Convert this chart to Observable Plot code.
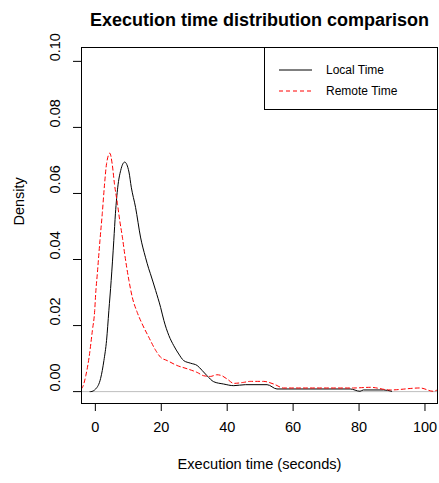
<!DOCTYPE html>
<html>
<head>
<meta charset="utf-8">
<script src="https://cdn.jsdelivr.net/npm/d3@7"></script>
<script src="https://cdn.jsdelivr.net/npm/@observablehq/plot@0.6"></script>
<style>
  html, body { margin: 0; padding: 0; background: #fff; }
  #wrap { position: relative; width: 439px; height: 483px; font-family: "Liberation Sans", Arial, sans-serif; }
  #legend { position: absolute; left: 264px; top: 47px; width: 172px; height: 61px; border: 1px solid #000; background: #fff; box-sizing: content-box; }
  #legend .row { position: absolute; left: 0; height: 16px; display: flex; align-items: center; font-size: 12px; color: #000; }
  #legend svg { margin-left: 14px; margin-right: 14px; }
</style>
</head>
<body>
<div id="wrap"></div>
<script>
const title = "Execution time distribution comparison";
const xLabel = "Execution time (seconds)";
const yLabel = "Density";
const seriesNames = ["Local Time", "Remote Time"];
const seriesColors = ["black", "red"];
const xTicks = [0, 20, 40, 60, 80, 100];
const yTicks = [0.00, 0.02, 0.04, 0.06, 0.08, 0.10];

const localX = [-1.6, -1.4, 0.1, 1.6, 2.6, 3.4, 4.1, 4.8, 5.6, 6.1, 6.8, 7.7, 8.9, 10.2, 10.9, 12.2, 13.7, 15.2, 16.2, 16.7, 18.3, 19.8, 20.8, 22.3, 23.8, 25.3, 26.8, 28.9, 30.9, 32.4, 33.9, 35.9, 38.9, 42.0, 45.5, 52.1, 55.1, 77.3, 80.3, 81.3, 87.4, 89.9];
const localY = [0, 0, 0.0008, 0.004, 0.0094, 0.0155, 0.0245, 0.0336, 0.0458, 0.054, 0.0619, 0.067, 0.0695, 0.0665, 0.0619, 0.0558, 0.0468, 0.0407, 0.0372, 0.0357, 0.0306, 0.0255, 0.0215, 0.017, 0.0139, 0.0114, 0.0094, 0.0086, 0.0079, 0.0064, 0.0048, 0.003, 0.0023, 0.0018, 0.0021, 0.0021, 0.0008, 0.0008, 0.0001, 0.0005, 0.0005, 0.0001];

const remoteX = [-4.3, -3.9, -2.9, -1.9, -0.9, -0.2, 0.1, 0.6, 1.4, 2.1, 2.8, 3.4, 4.4, 5.1, 5.8, 6.7, 7.4, 8.2, 8.9, 9.5, 10.2, 11.2, 12.7, 14.2, 16.2, 18.3, 19.8, 21.8, 24.8, 27.9, 30.9, 32.9, 34.9, 36.9, 38.4, 40.0, 42.0, 45.0, 47.0, 51.0, 54.1, 57.1, 78.3, 83.4, 89.4, 98.5, 102.5, 103.9];
const remoteY = [0.0008, 0.0013, 0.0048, 0.0104, 0.0185, 0.0245, 0.0296, 0.0357, 0.0458, 0.0539, 0.0629, 0.069, 0.0722, 0.069, 0.0629, 0.0569, 0.0518, 0.0468, 0.0417, 0.0377, 0.0336, 0.0286, 0.0240, 0.0205, 0.0165, 0.0125, 0.0104, 0.0094, 0.0079, 0.0069, 0.0058, 0.0048, 0.0046, 0.0051, 0.0048, 0.0038, 0.0025, 0.0028, 0.0031, 0.0031, 0.0023, 0.0011, 0.0011, 0.0013, 0.0005, 0.0011, 0.0001, 0.0006];

const local = localX.map((x, i) => ({x, y: localY[i]}));
const remote = remoteX.map((x, i) => ({x, y: remoteY[i]}));
const font = "Liberation Sans, Arial, sans-serif";

const plot = Plot.plot({
  width: 439,
  height: 483,
  marginTop: 47,
  marginBottom: 80,
  marginLeft: 81,
  marginRight: 2,
  style: {fontFamily: font, background: "#fff", color: "#000"},
  x: {domain: [-4.2, 103.8]},
  y: {domain: [-0.0036, 0.1042]},
  marks: [
    Plot.ruleY([0], {stroke: "#bebebe", strokeWidth: 1}),
    Plot.line(local, {x: "x", y: "y", stroke: seriesColors[0], strokeWidth: 1, curve: "monotone-x", clip: true}),
    Plot.line(remote, {x: "x", y: "y", stroke: seriesColors[1], strokeWidth: 1, strokeDasharray: "4,3", curve: "monotone-x", clip: true}),
    Plot.frame({stroke: "#000", strokeWidth: 1}),
    Plot.axisX({ticks: xTicks, tickSize: 8, tickPadding: 10, fontSize: 14.5, label: null, stroke: "#000"}),
    Plot.axisY({ticks: yTicks, tickSize: 8, tickFormat: () => "", label: null}),
    Plot.text(yTicks, {y: d => d, text: d => d3.format(".2f")(d), frameAnchor: "left", dx: -26, rotate: -90, fontSize: 14.5, fill: "#000"}),
    Plot.text([yLabel], {text: d => d, frameAnchor: "left", dx: -62, rotate: -90, fontSize: 14.5, fill: "#000"}),
    Plot.text([xLabel], {text: d => d, frameAnchor: "bottom", dy: 65, fontSize: 14.6, fill: "#000"}),
    Plot.text([title], {text: d => d, frameAnchor: "top", dy: -34, fontSize: 18, fontWeight: "bold", fill: "#000"})
  ]
});

const wrap = document.getElementById("wrap");
wrap.appendChild(plot);

const legend = document.createElement("div");
legend.id = "legend";
seriesNames.forEach((name, i) => {
  const row = document.createElement("div");
  row.className = "row";
  row.style.top = (i === 0 ? 14 : 35) + "px";
  const dash = i === 1 ? ' stroke-dasharray="4,3"' : '';
  row.innerHTML = `<svg width="33" height="4"><line x1="0" y1="2" x2="33" y2="2" stroke="${seriesColors[i]}" stroke-width="1"${dash}/></svg><span>${name}</span>`;
  legend.appendChild(row);
});
wrap.appendChild(legend);
</script>
</body>
</html>
